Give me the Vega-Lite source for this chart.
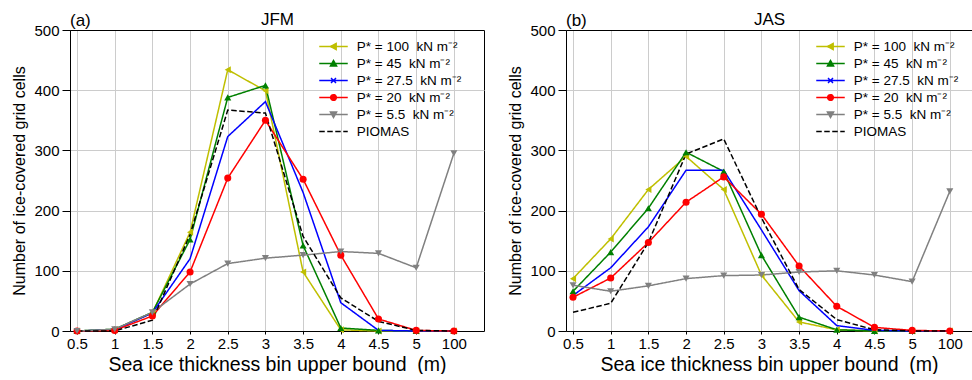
{
  "$schema": "https://vega.github.io/schema/vega-lite/v6.json",
  "autosize": {"type": "pad"},
  "padding": {"left": 11, "top": 9, "right": 0, "bottom": 0},
  "background": "white",
  "config": {
    "font": "Liberation Sans",
    "axis": {"labelFont": "Liberation Sans", "titleFont": "Liberation Sans", "labelColor": "#000", "titleColor": "#000", "domainColor": "#000", "tickColor": "#000", "gridColor": "#cccccc", "gridWidth": 1, "labelFontSize": 15, "titleFontWeight": "normal", "domainWidth": 1},
    "legend": {"labelFont": "Liberation Sans", "labelColor": "#000"},
    "title": {"font": "Liberation Sans", "fontWeight": "normal", "color": "#000"}
  },
  "datasets": {
    "jfm": [
      {"series": "P* = 100\u00a0 kN m⁻²", "binIndex": 0, "upperBound": "0.5", "count": 0},
      {"series": "P* = 100\u00a0 kN m⁻²", "binIndex": 1, "upperBound": "1", "count": 2},
      {"series": "P* = 100\u00a0 kN m⁻²", "binIndex": 2, "upperBound": "1.5", "count": 30},
      {"series": "P* = 100\u00a0 kN m⁻²", "binIndex": 3, "upperBound": "2", "count": 164},
      {"series": "P* = 100\u00a0 kN m⁻²", "binIndex": 4, "upperBound": "2.5", "count": 434},
      {"series": "P* = 100\u00a0 kN m⁻²", "binIndex": 5, "upperBound": "3", "count": 399},
      {"series": "P* = 100\u00a0 kN m⁻²", "binIndex": 6, "upperBound": "3.5", "count": 98},
      {"series": "P* = 100\u00a0 kN m⁻²", "binIndex": 7, "upperBound": "4", "count": 2},
      {"series": "P* = 100\u00a0 kN m⁻²", "binIndex": 8, "upperBound": "4.5", "count": 0},
      {"series": "P* = 100\u00a0 kN m⁻²", "binIndex": 9, "upperBound": "5", "count": 0},
      {"series": "P* = 100\u00a0 kN m⁻²", "binIndex": 10, "upperBound": "100", "count": 0},
      {"series": "P* = 45\u00a0 kN m⁻²", "binIndex": 0, "upperBound": "0.5", "count": 0},
      {"series": "P* = 45\u00a0 kN m⁻²", "binIndex": 1, "upperBound": "1", "count": 3},
      {"series": "P* = 45\u00a0 kN m⁻²", "binIndex": 2, "upperBound": "1.5", "count": 31},
      {"series": "P* = 45\u00a0 kN m⁻²", "binIndex": 3, "upperBound": "2", "count": 152},
      {"series": "P* = 45\u00a0 kN m⁻²", "binIndex": 4, "upperBound": "2.5", "count": 388},
      {"series": "P* = 45\u00a0 kN m⁻²", "binIndex": 5, "upperBound": "3", "count": 408},
      {"series": "P* = 45\u00a0 kN m⁻²", "binIndex": 6, "upperBound": "3.5", "count": 142},
      {"series": "P* = 45\u00a0 kN m⁻²", "binIndex": 7, "upperBound": "4", "count": 5},
      {"series": "P* = 45\u00a0 kN m⁻²", "binIndex": 8, "upperBound": "4.5", "count": 1},
      {"series": "P* = 45\u00a0 kN m⁻²", "binIndex": 9, "upperBound": "5", "count": 0},
      {"series": "P* = 45\u00a0 kN m⁻²", "binIndex": 10, "upperBound": "100", "count": 0},
      {"series": "P* = 27.5\u00a0 kN m⁻²", "binIndex": 0, "upperBound": "0.5", "count": 0},
      {"series": "P* = 27.5\u00a0 kN m⁻²", "binIndex": 1, "upperBound": "1", "count": 2},
      {"series": "P* = 27.5\u00a0 kN m⁻²", "binIndex": 2, "upperBound": "1.5", "count": 30},
      {"series": "P* = 27.5\u00a0 kN m⁻²", "binIndex": 3, "upperBound": "2", "count": 120},
      {"series": "P* = 27.5\u00a0 kN m⁻²", "binIndex": 4, "upperBound": "2.5", "count": 323},
      {"series": "P* = 27.5\u00a0 kN m⁻²", "binIndex": 5, "upperBound": "3", "count": 381},
      {"series": "P* = 27.5\u00a0 kN m⁻²", "binIndex": 6, "upperBound": "3.5", "count": 230},
      {"series": "P* = 27.5\u00a0 kN m⁻²", "binIndex": 7, "upperBound": "4", "count": 47},
      {"series": "P* = 27.5\u00a0 kN m⁻²", "binIndex": 8, "upperBound": "4.5", "count": 1},
      {"series": "P* = 27.5\u00a0 kN m⁻²", "binIndex": 9, "upperBound": "5", "count": 0},
      {"series": "P* = 27.5\u00a0 kN m⁻²", "binIndex": 10, "upperBound": "100", "count": 0},
      {"series": "P* = 20\u00a0 kN m⁻²", "binIndex": 0, "upperBound": "0.5", "count": 0},
      {"series": "P* = 20\u00a0 kN m⁻²", "binIndex": 1, "upperBound": "1", "count": 1},
      {"series": "P* = 20\u00a0 kN m⁻²", "binIndex": 2, "upperBound": "1.5", "count": 25},
      {"series": "P* = 20\u00a0 kN m⁻²", "binIndex": 3, "upperBound": "2", "count": 98},
      {"series": "P* = 20\u00a0 kN m⁻²", "binIndex": 4, "upperBound": "2.5", "count": 254},
      {"series": "P* = 20\u00a0 kN m⁻²", "binIndex": 5, "upperBound": "3", "count": 350},
      {"series": "P* = 20\u00a0 kN m⁻²", "binIndex": 6, "upperBound": "3.5", "count": 252},
      {"series": "P* = 20\u00a0 kN m⁻²", "binIndex": 7, "upperBound": "4", "count": 126},
      {"series": "P* = 20\u00a0 kN m⁻²", "binIndex": 8, "upperBound": "4.5", "count": 20},
      {"series": "P* = 20\u00a0 kN m⁻²", "binIndex": 9, "upperBound": "5", "count": 1},
      {"series": "P* = 20\u00a0 kN m⁻²", "binIndex": 10, "upperBound": "100", "count": 0},
      {"series": "P* = 5.5\u00a0 kN m⁻²", "binIndex": 0, "upperBound": "0.5", "count": 0},
      {"series": "P* = 5.5\u00a0 kN m⁻²", "binIndex": 1, "upperBound": "1", "count": 3},
      {"series": "P* = 5.5\u00a0 kN m⁻²", "binIndex": 2, "upperBound": "1.5", "count": 31},
      {"series": "P* = 5.5\u00a0 kN m⁻²", "binIndex": 3, "upperBound": "2", "count": 78},
      {"series": "P* = 5.5\u00a0 kN m⁻²", "binIndex": 4, "upperBound": "2.5", "count": 112},
      {"series": "P* = 5.5\u00a0 kN m⁻²", "binIndex": 5, "upperBound": "3", "count": 121},
      {"series": "P* = 5.5\u00a0 kN m⁻²", "binIndex": 6, "upperBound": "3.5", "count": 126},
      {"series": "P* = 5.5\u00a0 kN m⁻²", "binIndex": 7, "upperBound": "4", "count": 132},
      {"series": "P* = 5.5\u00a0 kN m⁻²", "binIndex": 8, "upperBound": "4.5", "count": 129},
      {"series": "P* = 5.5\u00a0 kN m⁻²", "binIndex": 9, "upperBound": "5", "count": 105},
      {"series": "P* = 5.5\u00a0 kN m⁻²", "binIndex": 10, "upperBound": "100", "count": 295},
      {"series": "PIOMAS", "binIndex": 0, "upperBound": "0.5", "count": 0},
      {"series": "PIOMAS", "binIndex": 1, "upperBound": "1", "count": 0},
      {"series": "PIOMAS", "binIndex": 2, "upperBound": "1.5", "count": 18},
      {"series": "PIOMAS", "binIndex": 3, "upperBound": "2", "count": 160},
      {"series": "PIOMAS", "binIndex": 4, "upperBound": "2.5", "count": 367},
      {"series": "PIOMAS", "binIndex": 5, "upperBound": "3", "count": 362},
      {"series": "PIOMAS", "binIndex": 6, "upperBound": "3.5", "count": 157},
      {"series": "PIOMAS", "binIndex": 7, "upperBound": "4", "count": 55},
      {"series": "PIOMAS", "binIndex": 8, "upperBound": "4.5", "count": 16},
      {"series": "PIOMAS", "binIndex": 9, "upperBound": "5", "count": 1},
      {"series": "PIOMAS", "binIndex": 10, "upperBound": "100", "count": 0}
    ],
    "jas": [
      {"series": "P* = 100\u00a0 kN m⁻²", "binIndex": 0, "upperBound": "0.5", "count": 87},
      {"series": "P* = 100\u00a0 kN m⁻²", "binIndex": 1, "upperBound": "1", "count": 153},
      {"series": "P* = 100\u00a0 kN m⁻²", "binIndex": 2, "upperBound": "1.5", "count": 235},
      {"series": "P* = 100\u00a0 kN m⁻²", "binIndex": 3, "upperBound": "2", "count": 290},
      {"series": "P* = 100\u00a0 kN m⁻²", "binIndex": 4, "upperBound": "2.5", "count": 235},
      {"series": "P* = 100\u00a0 kN m⁻²", "binIndex": 5, "upperBound": "3", "count": 93},
      {"series": "P* = 100\u00a0 kN m⁻²", "binIndex": 6, "upperBound": "3.5", "count": 15},
      {"series": "P* = 100\u00a0 kN m⁻²", "binIndex": 7, "upperBound": "4", "count": 2},
      {"series": "P* = 100\u00a0 kN m⁻²", "binIndex": 8, "upperBound": "4.5", "count": 0},
      {"series": "P* = 100\u00a0 kN m⁻²", "binIndex": 9, "upperBound": "5", "count": 0},
      {"series": "P* = 100\u00a0 kN m⁻²", "binIndex": 10, "upperBound": "100", "count": 0},
      {"series": "P* = 45\u00a0 kN m⁻²", "binIndex": 0, "upperBound": "0.5", "count": 66},
      {"series": "P* = 45\u00a0 kN m⁻²", "binIndex": 1, "upperBound": "1", "count": 131},
      {"series": "P* = 45\u00a0 kN m⁻²", "binIndex": 2, "upperBound": "1.5", "count": 204},
      {"series": "P* = 45\u00a0 kN m⁻²", "binIndex": 3, "upperBound": "2", "count": 297},
      {"series": "P* = 45\u00a0 kN m⁻²", "binIndex": 4, "upperBound": "2.5", "count": 265},
      {"series": "P* = 45\u00a0 kN m⁻²", "binIndex": 5, "upperBound": "3", "count": 126},
      {"series": "P* = 45\u00a0 kN m⁻²", "binIndex": 6, "upperBound": "3.5", "count": 23},
      {"series": "P* = 45\u00a0 kN m⁻²", "binIndex": 7, "upperBound": "4", "count": 2},
      {"series": "P* = 45\u00a0 kN m⁻²", "binIndex": 8, "upperBound": "4.5", "count": 0},
      {"series": "P* = 45\u00a0 kN m⁻²", "binIndex": 9, "upperBound": "5", "count": 0},
      {"series": "P* = 45\u00a0 kN m⁻²", "binIndex": 10, "upperBound": "100", "count": 0},
      {"series": "P* = 27.5\u00a0 kN m⁻²", "binIndex": 0, "upperBound": "0.5", "count": 59},
      {"series": "P* = 27.5\u00a0 kN m⁻²", "binIndex": 1, "upperBound": "1", "count": 105},
      {"series": "P* = 27.5\u00a0 kN m⁻²", "binIndex": 2, "upperBound": "1.5", "count": 173},
      {"series": "P* = 27.5\u00a0 kN m⁻²", "binIndex": 3, "upperBound": "2", "count": 267},
      {"series": "P* = 27.5\u00a0 kN m⁻²", "binIndex": 4, "upperBound": "2.5", "count": 267},
      {"series": "P* = 27.5\u00a0 kN m⁻²", "binIndex": 5, "upperBound": "3", "count": 168},
      {"series": "P* = 27.5\u00a0 kN m⁻²", "binIndex": 6, "upperBound": "3.5", "count": 67},
      {"series": "P* = 27.5\u00a0 kN m⁻²", "binIndex": 7, "upperBound": "4", "count": 9},
      {"series": "P* = 27.5\u00a0 kN m⁻²", "binIndex": 8, "upperBound": "4.5", "count": 1},
      {"series": "P* = 27.5\u00a0 kN m⁻²", "binIndex": 9, "upperBound": "5", "count": 0},
      {"series": "P* = 27.5\u00a0 kN m⁻²", "binIndex": 10, "upperBound": "100", "count": 0},
      {"series": "P* = 20\u00a0 kN m⁻²", "binIndex": 0, "upperBound": "0.5", "count": 56},
      {"series": "P* = 20\u00a0 kN m⁻²", "binIndex": 1, "upperBound": "1", "count": 88},
      {"series": "P* = 20\u00a0 kN m⁻²", "binIndex": 2, "upperBound": "1.5", "count": 147},
      {"series": "P* = 20\u00a0 kN m⁻²", "binIndex": 3, "upperBound": "2", "count": 214},
      {"series": "P* = 20\u00a0 kN m⁻²", "binIndex": 4, "upperBound": "2.5", "count": 256},
      {"series": "P* = 20\u00a0 kN m⁻²", "binIndex": 5, "upperBound": "3", "count": 194},
      {"series": "P* = 20\u00a0 kN m⁻²", "binIndex": 6, "upperBound": "3.5", "count": 108},
      {"series": "P* = 20\u00a0 kN m⁻²", "binIndex": 7, "upperBound": "4", "count": 41},
      {"series": "P* = 20\u00a0 kN m⁻²", "binIndex": 8, "upperBound": "4.5", "count": 6},
      {"series": "P* = 20\u00a0 kN m⁻²", "binIndex": 9, "upperBound": "5", "count": 1},
      {"series": "P* = 20\u00a0 kN m⁻²", "binIndex": 10, "upperBound": "100", "count": 0},
      {"series": "P* = 5.5\u00a0 kN m⁻²", "binIndex": 0, "upperBound": "0.5", "count": 76},
      {"series": "P* = 5.5\u00a0 kN m⁻²", "binIndex": 1, "upperBound": "1", "count": 66},
      {"series": "P* = 5.5\u00a0 kN m⁻²", "binIndex": 2, "upperBound": "1.5", "count": 75},
      {"series": "P* = 5.5\u00a0 kN m⁻²", "binIndex": 3, "upperBound": "2", "count": 87},
      {"series": "P* = 5.5\u00a0 kN m⁻²", "binIndex": 4, "upperBound": "2.5", "count": 92},
      {"series": "P* = 5.5\u00a0 kN m⁻²", "binIndex": 5, "upperBound": "3", "count": 93},
      {"series": "P* = 5.5\u00a0 kN m⁻²", "binIndex": 6, "upperBound": "3.5", "count": 98},
      {"series": "P* = 5.5\u00a0 kN m⁻²", "binIndex": 7, "upperBound": "4", "count": 100},
      {"series": "P* = 5.5\u00a0 kN m⁻²", "binIndex": 8, "upperBound": "4.5", "count": 93},
      {"series": "P* = 5.5\u00a0 kN m⁻²", "binIndex": 9, "upperBound": "5", "count": 82},
      {"series": "P* = 5.5\u00a0 kN m⁻²", "binIndex": 10, "upperBound": "100", "count": 232},
      {"series": "PIOMAS", "binIndex": 0, "upperBound": "0.5", "count": 31},
      {"series": "PIOMAS", "binIndex": 1, "upperBound": "1", "count": 46},
      {"series": "PIOMAS", "binIndex": 2, "upperBound": "1.5", "count": 147},
      {"series": "PIOMAS", "binIndex": 3, "upperBound": "2", "count": 294},
      {"series": "PIOMAS", "binIndex": 4, "upperBound": "2.5", "count": 319},
      {"series": "PIOMAS", "binIndex": 5, "upperBound": "3", "count": 188},
      {"series": "PIOMAS", "binIndex": 6, "upperBound": "3.5", "count": 69},
      {"series": "PIOMAS", "binIndex": 7, "upperBound": "4", "count": 19},
      {"series": "PIOMAS", "binIndex": 8, "upperBound": "4.5", "count": 2},
      {"series": "PIOMAS", "binIndex": 9, "upperBound": "5", "count": 0},
      {"series": "PIOMAS", "binIndex": 10, "upperBound": "100", "count": 0}
    ]
  },
  "spacing": 82,
  "bounds": "flush",
  "resolve": {"scale": {"color": "independent", "strokeDash": "independent", "shape": "independent"}, "legend": {"color": "independent"}},
  "hconcat": [
    {
      "width": 414,
      "height": 301,
      "data": {"name": "jfm"},
      "title": {"text": "(a)", "anchor": "start", "frame": "group", "fontSize": 17, "offset": -20},
      "view": {"stroke": "#000", "strokeWidth": 1},
      "resolve": {"axis": {"x": "independent"}},
      "encoding": {
        "x": {"field": "binIndex", "type": "quantitative", "scale": {"domain": [-0.186, 10.8], "nice": false, "zero": false},
          "axis": {"values": [0,1,2,3,4,5,6,7,8,9,10], "labelExpr": "['0.5','1','1.5','2','2.5','3','3.5','4','4.5','5','100'][datum.value]", "tickSize": 3, "labelPadding": 2, "grid": true, "title": "Sea ice thickness bin upper bound\u00a0 (m)", "titleFontSize": 19.5, "titlePadding": 4, "labelFlush": false, "labelOverlap": false}},
        "y": {"field": "count", "type": "quantitative", "scale": {"domain": [0, 500], "nice": false},
          "axis": {"values": [0,100,200,300,400,500], "tickSize": 8, "labelPadding": 3, "grid": true, "title": "Number of ice-covered grid cells", "titleFontSize": 16, "titlePadding": 6}}
      },
      "layer": [
        {
          "mark": {"type": "line", "strokeWidth": 1.5},
          "encoding": {
            "color": {"field": "series", "type": "nominal",
              "scale": {"domain": ["P* = 100\u00a0 kN m⁻²", "P* = 45\u00a0 kN m⁻²", "P* = 27.5\u00a0 kN m⁻²", "P* = 20\u00a0 kN m⁻²", "P* = 5.5\u00a0 kN m⁻²", "PIOMAS"], "range": ["#bfbf00", "#008000", "#0000ff", "#ff0000", "#808080", "#000000"]},
              "legend": {"orient": "none", "legendX": 253, "legendY": 6, "title": null, "labelFontSize": 13.5, "symbolSize": 361, "rowPadding": 0, "labelOffset": 12.75, "padding": 0,
                "encode": {"symbols": {"update": {
                  "shape": {"signal": "indexof(datum.value,'100')>=0 ? 'M-1.5,0H1.5M-0.32,0L0.28,-0.32L0.28,0.32Z' : indexof(datum.value,'45')>=0 ? 'M-1.5,0H1.5M0,-0.32L0.32,0.26L-0.32,0.26Z' : indexof(datum.value,'27.5')>=0 ? 'M-1.5,0H1.5M-0.26,-0.26L0.26,0.26M-0.26,0.26L0.26,-0.26' : indexof(datum.value,'20')>=0 ? 'M-1.5,0H1.5M0.3,0A0.3,0.3 0 1,1 -0.3,0A0.3,0.3 0 1,1 0.3,0Z' : indexof(datum.value,'5.5')>=0 ? 'M-1.5,0H1.5M0,0.32L0.32,-0.26L-0.32,-0.26Z' : 'M-1.5,0H1.5'"},
                  "stroke": {"signal": "indexof(datum.value,'100')>=0 ? '#bfbf00' : indexof(datum.value,'45')>=0 ? '#008000' : indexof(datum.value,'27.5')>=0 ? '#0000ff' : indexof(datum.value,'20')>=0 ? '#ff0000' : indexof(datum.value,'5.5')>=0 ? '#808080' : '#000000'"},
                  "fill": {"signal": "indexof(datum.value,'100')>=0 ? '#bfbf00' : indexof(datum.value,'45')>=0 ? '#008000' : indexof(datum.value,'27.5')>=0 ? '#0000ff' : indexof(datum.value,'20')>=0 ? '#ff0000' : indexof(datum.value,'5.5')>=0 ? '#808080' : 'transparent'"},
                  "strokeDash": {"signal": "datum.value === 'PIOMAS' ? [4.5, 2.5] : [1, 0]"},
                  "strokeWidth": {"value": 1.5},
                  "opacity": {"value": 1}
                }}}}},
            "strokeDash": {"field": "series", "type": "nominal", "scale": {"domain": ["P* = 100\u00a0 kN m⁻²", "P* = 45\u00a0 kN m⁻²", "P* = 27.5\u00a0 kN m⁻²", "P* = 20\u00a0 kN m⁻²", "P* = 5.5\u00a0 kN m⁻²", "PIOMAS"], "range": [[1,0],[1,0],[1,0],[1,0],[1,0],[5.5,2.5]]}, "legend": null}
          }
        },
        {
          "transform": [{"filter": "datum.series !== 'PIOMAS'"}],
          "mark": {"type": "point", "filled": true, "opacity": 1, "strokeWidth": 1, "size": 50},
          "encoding": {
            "x": {"field": "binIndex", "type": "quantitative", "scale": {"domain": [-0.186, 10.8], "nice": false, "zero": false},
              "axis": {"orient": "top", "labels": false, "ticks": false, "grid": false, "domain": true, "title": "JFM", "titleFontSize": 17, "titlePadding": 2}},
            "color": {"field": "series", "type": "nominal", "scale": {"domain": ["P* = 100\u00a0 kN m⁻²", "P* = 45\u00a0 kN m⁻²", "P* = 27.5\u00a0 kN m⁻²", "P* = 20\u00a0 kN m⁻²", "P* = 5.5\u00a0 kN m⁻²", "PIOMAS"], "range": ["#bfbf00", "#008000", "#0000ff", "#ff0000", "#808080", "#000000"]}, "legend": null},
            "shape": {"field": "series", "type": "nominal", "scale": {"domain": ["P* = 100\u00a0 kN m⁻²", "P* = 45\u00a0 kN m⁻²", "P* = 27.5\u00a0 kN m⁻²", "P* = 20\u00a0 kN m⁻²", "P* = 5.5\u00a0 kN m⁻²"], "range": ["triangle-left", "triangle-up", "M-1,-1L1,1M-1,1L1,-1", "circle", "triangle-down"]}, "legend": null}
          }
        }
      ]
    },
    {
      "width": 406,
      "height": 301,
      "data": {"name": "jas"},
      "title": {"text": "(b)", "anchor": "start", "frame": "group", "fontSize": 17, "offset": -20},
      "view": {"stroke": null},
      "resolve": {"axis": {"x": "independent"}},
      "encoding": {
        "x": {"field": "binIndex", "type": "quantitative", "scale": {"domain": [-0.186, 10.589], "nice": false, "zero": false},
          "axis": {"values": [0,1,2,3,4,5,6,7,8,9,10], "labelExpr": "['0.5','1','1.5','2','2.5','3','3.5','4','4.5','5','100'][datum.value]", "tickSize": 3, "labelPadding": 2, "grid": true, "title": "Sea ice thickness bin upper bound\u00a0 (m)", "titleFontSize": 19.5, "titlePadding": 4, "labelFlush": false, "labelOverlap": false}},
        "y": {"field": "count", "type": "quantitative", "scale": {"domain": [0, 500], "nice": false},
          "axis": {"values": [0,100,200,300,400,500], "tickSize": 8, "labelPadding": 3, "grid": true, "title": "Number of ice-covered grid cells", "titleFontSize": 16, "titlePadding": 6}}
      },
      "layer": [
        {
          "mark": {"type": "line", "strokeWidth": 1.5},
          "encoding": {
            "color": {"field": "series", "type": "nominal",
              "scale": {"domain": ["P* = 100\u00a0 kN m⁻²", "P* = 45\u00a0 kN m⁻²", "P* = 27.5\u00a0 kN m⁻²", "P* = 20\u00a0 kN m⁻²", "P* = 5.5\u00a0 kN m⁻²", "PIOMAS"], "range": ["#bfbf00", "#008000", "#0000ff", "#ff0000", "#808080", "#000000"]},
              "legend": {"orient": "none", "legendX": 254, "legendY": 6, "title": null, "labelFontSize": 13.5, "symbolSize": 361, "rowPadding": 0, "labelOffset": 12.75, "padding": 0,
                "encode": {"symbols": {"update": {
                  "shape": {"signal": "indexof(datum.value,'100')>=0 ? 'M-1.5,0H1.5M-0.32,0L0.28,-0.32L0.28,0.32Z' : indexof(datum.value,'45')>=0 ? 'M-1.5,0H1.5M0,-0.32L0.32,0.26L-0.32,0.26Z' : indexof(datum.value,'27.5')>=0 ? 'M-1.5,0H1.5M-0.26,-0.26L0.26,0.26M-0.26,0.26L0.26,-0.26' : indexof(datum.value,'20')>=0 ? 'M-1.5,0H1.5M0.3,0A0.3,0.3 0 1,1 -0.3,0A0.3,0.3 0 1,1 0.3,0Z' : indexof(datum.value,'5.5')>=0 ? 'M-1.5,0H1.5M0,0.32L0.32,-0.26L-0.32,-0.26Z' : 'M-1.5,0H1.5'"},
                  "stroke": {"signal": "indexof(datum.value,'100')>=0 ? '#bfbf00' : indexof(datum.value,'45')>=0 ? '#008000' : indexof(datum.value,'27.5')>=0 ? '#0000ff' : indexof(datum.value,'20')>=0 ? '#ff0000' : indexof(datum.value,'5.5')>=0 ? '#808080' : '#000000'"},
                  "fill": {"signal": "indexof(datum.value,'100')>=0 ? '#bfbf00' : indexof(datum.value,'45')>=0 ? '#008000' : indexof(datum.value,'27.5')>=0 ? '#0000ff' : indexof(datum.value,'20')>=0 ? '#ff0000' : indexof(datum.value,'5.5')>=0 ? '#808080' : 'transparent'"},
                  "strokeDash": {"signal": "datum.value === 'PIOMAS' ? [4.5, 2.5] : [1, 0]"},
                  "strokeWidth": {"value": 1.5},
                  "opacity": {"value": 1}
                }}}}},
            "strokeDash": {"field": "series", "type": "nominal", "scale": {"domain": ["P* = 100\u00a0 kN m⁻²", "P* = 45\u00a0 kN m⁻²", "P* = 27.5\u00a0 kN m⁻²", "P* = 20\u00a0 kN m⁻²", "P* = 5.5\u00a0 kN m⁻²", "PIOMAS"], "range": [[1,0],[1,0],[1,0],[1,0],[1,0],[5.5,2.5]]}, "legend": null}
          }
        },
        {
          "transform": [{"filter": "datum.series !== 'PIOMAS'"}],
          "mark": {"type": "point", "filled": true, "opacity": 1, "strokeWidth": 1, "size": 50},
          "encoding": {
            "x": {"field": "binIndex", "type": "quantitative", "scale": {"domain": [-0.186, 10.589], "nice": false, "zero": false},
              "axis": {"orient": "top", "labels": false, "ticks": false, "grid": false, "domain": true, "title": "JAS", "titleFontSize": 17, "titlePadding": 2}},
            "color": {"field": "series", "type": "nominal", "scale": {"domain": ["P* = 100\u00a0 kN m⁻²", "P* = 45\u00a0 kN m⁻²", "P* = 27.5\u00a0 kN m⁻²", "P* = 20\u00a0 kN m⁻²", "P* = 5.5\u00a0 kN m⁻²", "PIOMAS"], "range": ["#bfbf00", "#008000", "#0000ff", "#ff0000", "#808080", "#000000"]}, "legend": null},
            "shape": {"field": "series", "type": "nominal", "scale": {"domain": ["P* = 100\u00a0 kN m⁻²", "P* = 45\u00a0 kN m⁻²", "P* = 27.5\u00a0 kN m⁻²", "P* = 20\u00a0 kN m⁻²", "P* = 5.5\u00a0 kN m⁻²"], "range": ["triangle-left", "triangle-up", "M-1,-1L1,1M-1,1L1,-1", "circle", "triangle-down"]}, "legend": null}
          }
        }
      ]
    }
  ]
}
